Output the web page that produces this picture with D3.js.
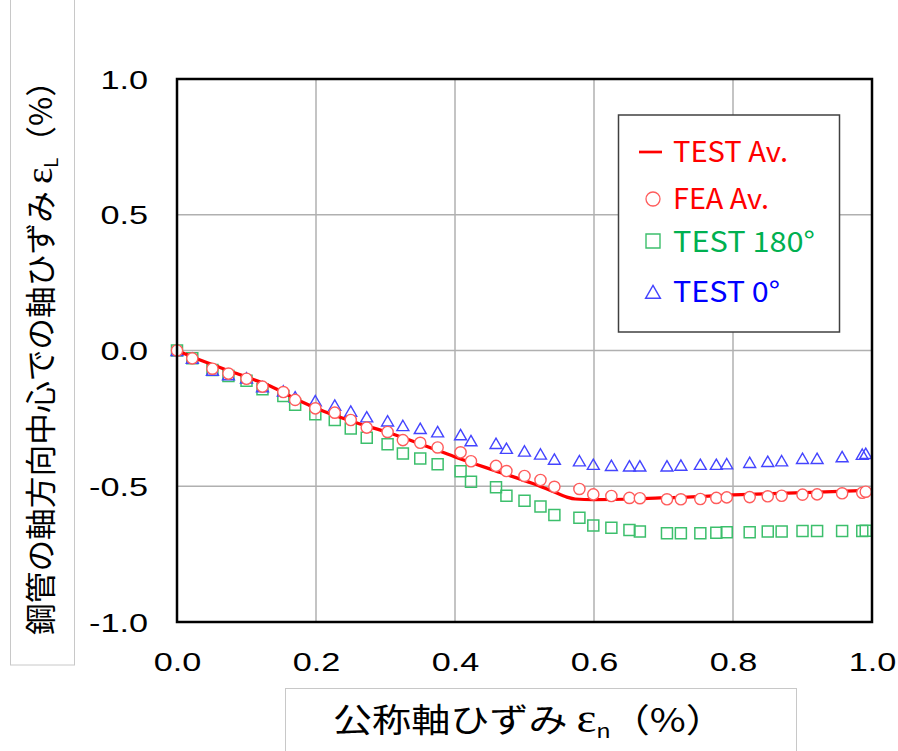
<!DOCTYPE html>
<html><head><meta charset="utf-8">
<script src="https://cdn.jsdelivr.net/npm/d3@7"></script>
<style>body{margin:0;background:#fff}</style>
</head><body>
<svg id="chart" width="898" height="751"></svg>
<script>
// Nominal axial strain of each measured/analysed point (%)
const strainN = [0.000, 0.022, 0.051, 0.074, 0.100, 0.123, 0.153, 0.170, 0.199, 0.227,
  0.250, 0.273, 0.303, 0.325, 0.350, 0.375, 0.408, 0.423, 0.459, 0.474,
  0.500, 0.523, 0.543, 0.579, 0.599, 0.625, 0.651, 0.666, 0.705, 0.725,
  0.753, 0.776, 0.791, 0.824, 0.850, 0.870, 0.900, 0.921, 0.957, 0.986, 0.991];
// FEA average
const feaAv = [0.000, -0.029, -0.067, -0.085, -0.104, -0.133, -0.153, -0.182, -0.213, -0.229,
  -0.256, -0.284, -0.300, -0.330, -0.340, -0.357, -0.375, -0.408, -0.425, -0.444,
  -0.462, -0.477, -0.502, -0.510, -0.530, -0.536, -0.543, -0.544, -0.548, -0.548,
  -0.547, -0.543, -0.541, -0.540, -0.537, -0.535, -0.531, -0.530, -0.526, -0.524, -0.520];
// Test, 180 degree side
const test180 = [0.000, -0.029, -0.072, -0.094, -0.111, -0.143, -0.168, -0.200, -0.235, -0.256,
  -0.287, -0.321, -0.345, -0.379, -0.398, -0.419, -0.445, -0.483, -0.504, -0.535,
  -0.553, -0.575, -0.606, -0.616, -0.645, -0.653, -0.661, -0.667, -0.673, -0.673,
  -0.673, -0.671, -0.669, -0.669, -0.667, -0.667, -0.665, -0.665, -0.665, -0.665, -0.664];
// Test, 0 degree side
const test0 = [0.000, -0.028, -0.072, -0.089, -0.101, -0.133, -0.149, -0.171, -0.185, -0.201,
  -0.223, -0.244, -0.259, -0.276, -0.287, -0.299, -0.310, -0.332, -0.342, -0.360,
  -0.370, -0.381, -0.400, -0.406, -0.419, -0.423, -0.425, -0.425, -0.425, -0.422,
  -0.419, -0.419, -0.417, -0.412, -0.408, -0.406, -0.397, -0.397, -0.391, -0.382, -0.379];
// Test average curve
const avStrainN = [0.000, 0.037, 0.086, 0.134, 0.177, 0.210, 0.259, 0.306, 0.350, 0.400,
  0.465, 0.512, 0.541, 0.561, 0.573, 0.599, 0.656, 0.695, 0.734, 0.800, 0.878, 0.973, 1.000];
const testAv = [0.000, -0.039, -0.085, -0.131, -0.186, -0.223, -0.267, -0.304, -0.344, -0.392,
  -0.449, -0.490, -0.519, -0.540, -0.547, -0.549, -0.547, -0.543, -0.540, -0.532, -0.525, -0.517, -0.514];

const xTicks = [0, 0.2, 0.4, 0.6, 0.8, 1.0];
const yTicks = [-1.0, -0.5, 0, 0.5, 1.0];
const legendLabels = ["TEST Av.", "FEA Av.", "TEST 180°", "TEST 0°"];

const svg = d3.select("#chart");
const L = 177, R = 872, T = 79, B = 622;
const x = d3.scaleLinear().domain([0, 1]).range([L, R]);
const y = d3.scaleLinear().domain([-1, 1]).range([B, T]);

const RED = "#ff0000", GREEN = "#00b050", BLUE = "#0000ff";

// axis-title boxes
svg.append("rect").attr("x", 10.5).attr("y", -2).attr("width", 64).attr("height", 667)
  .attr("fill", "none").attr("stroke", "#c8c8c8").attr("stroke-width", 1);
svg.append("rect").attr("x", 285.5).attr("y", 688.5).attr("width", 511).attr("height", 80)
  .attr("fill", "none").attr("stroke", "#c8c8c8").attr("stroke-width", 1);

// grid
const grid = svg.append("g");
grid.selectAll("line.v").data(xTicks.slice(1, -1)).join("line")
  .attr("x1", d => x(d)).attr("x2", d => x(d)).attr("y1", T).attr("y2", B)
  .attr("stroke", "#b0b0b0").attr("stroke-width", 1.5);
grid.selectAll("line.h").data(yTicks.slice(1, -1)).join("line")
  .attr("y1", d => y(d)).attr("y2", d => y(d)).attr("x1", L).attr("x2", R)
  .attr("stroke", "#b0b0b0").attr("stroke-width", 1.5);

// axes (labels only); plain hyphen for negatives
const fmt = d => d3.format(".1f")(d).replace("\u2212", "-");
const yAxis = svg.append("g").attr("transform", `translate(${L},0)`)
  .call(d3.axisLeft(y).tickValues(yTicks).tickFormat(fmt).tickSize(0));
yAxis.select(".domain").remove();
yAxis.selectAll("text").attr("x", 0).attr("dy", "0.36em")
  .attr("transform", "translate(-29,0) scale(1.37,1)")
  .attr("font-family", "Liberation Sans, Arial, sans-serif").attr("font-size", 25).attr("fill", "#000");

const xAxis = svg.append("g").attr("transform", `translate(0,${B})`)
  .call(d3.axisBottom(x).tickValues(xTicks).tickFormat(fmt).tickSize(0));
xAxis.select(".domain").remove();
xAxis.selectAll("text").attr("y", 0).attr("dy", "0.36em")
  .attr("transform", "translate(0,40) scale(1.37,1)")
  .attr("font-family", "Liberation Sans, Arial, sans-serif").attr("font-size", 25).attr("fill", "#000");

// data marks
const sq = d3.symbol().type(d3.symbolSquare).size(121)();
const tri = d3.symbol().type(d3.symbolTriangle).size(62)();

svg.append("g").selectAll("path").data(strainN).join("path")
  .attr("d", sq)
  .attr("transform", (d, i) => `translate(${x(d)},${y(test180[i])})`)
  .attr("fill", "none").attr("stroke", "#3cbf6c").attr("stroke-width", 1.5);

svg.append("g").selectAll("path").data(strainN).join("path")
  .attr("d", tri)
  .attr("transform", (d, i) => `translate(${x(d)},${y(test0[i]) + 1.7})`)
  .attr("fill", "none").attr("stroke", "#4444ff").attr("stroke-width", 1.4);

const line = d3.line().x(d => x(d[0])).y(d => y(d[1])).curve(d3.curveMonotoneX);
svg.append("path").datum(avStrainN.map((d, i) => [d, testAv[i]]))
  .attr("d", line).attr("fill", "none").attr("stroke", RED).attr("stroke-width", 3.2);

svg.append("g").selectAll("circle").data(strainN).join("circle")
  .attr("cx", d => x(d)).attr("cy", (d, i) => y(feaAv[i])).attr("r", 5.6)
  .attr("fill", "#fff").attr("stroke", "#ff5c5c").attr("stroke-width", 1.4);

// plot frame
svg.append("rect").attr("x", L).attr("y", T).attr("width", R - L).attr("height", B - T)
  .attr("fill", "none").attr("stroke", "#000").attr("stroke-width", 2.5);

// legend
const lg = svg.append("g");
lg.append("rect").attr("x", 618.5).attr("y", 115).attr("width", 221).attr("height", 217)
  .attr("fill", "#fff").attr("stroke", "#404040").attr("stroke-width", 1.5);
const lgColors = [RED, RED, GREEN, BLUE];
const lgBase = [162, 209, 252, 302];
const lgLen = [115, 96, 142, 107];
legendLabels.forEach((t, i) => {
  lg.append("text").attr("x", 673).attr("y", lgBase[i]).text(t)
    .attr("font-family", "Noto Sans CJK JP, sans-serif").attr("font-size", 28)
    .attr("fill", lgColors[i]).attr("textLength", lgLen[i]).attr("lengthAdjust", "spacingAndGlyphs");
});
lg.append("line").attr("x1", 639).attr("x2", 662).attr("y1", 152).attr("y2", 152)
  .attr("stroke", RED).attr("stroke-width", 2.7);
lg.append("circle").attr("cx", 653).attr("cy", 199).attr("r", 7)
  .attr("fill", "#fff").attr("stroke", "#ff5c5c").attr("stroke-width", 1.3);
lg.append("path").attr("d", d3.symbol().type(d3.symbolSquare).size(196)())
  .attr("transform", "translate(653,241)").attr("fill", "none").attr("stroke", "#3cbf6c").attr("stroke-width", 1.4);
lg.append("path").attr("d", d3.symbol().type(d3.symbolTriangle).size(95)())
  .attr("transform", "translate(653,294)").attr("fill", "none").attr("stroke", "#4444ff").attr("stroke-width", 1.4);

// axis titles
const yt = svg.append("text").attr("transform", "translate(52,350) rotate(-90)")
  .attr("text-anchor", "middle").attr("font-family", "Noto Sans CJK JP, sans-serif")
  .attr("font-size", 31).attr("fill", "#000")
  .attr("textLength", 570).attr("lengthAdjust", "spacingAndGlyphs");
yt.append("tspan").text("鋼管の軸方向中心での軸ひずみ ");
yt.append("tspan").attr("font-family", "Liberation Serif, serif").attr("font-size", 38).text("ε");
yt.append("tspan").attr("font-size", 18).attr("dy", 6).text("L");
yt.append("tspan").attr("dy", -6).text("（%）");

const xt = svg.append("text").attr("x", 333).attr("y", 732)
  .attr("font-family", "Noto Sans CJK JP, sans-serif")
  .attr("font-size", 33).attr("fill", "#000")
  .attr("textLength", 392).attr("lengthAdjust", "spacingAndGlyphs");
xt.append("tspan").text("公称軸ひずみ ");
xt.append("tspan").attr("font-family", "Liberation Serif, serif").attr("font-size", 40).text("ε");
xt.append("tspan").attr("font-size", 20).attr("dy", 6).text("n");
xt.append("tspan").attr("dy", -6).text("（%）");
</script>
</body></html>
